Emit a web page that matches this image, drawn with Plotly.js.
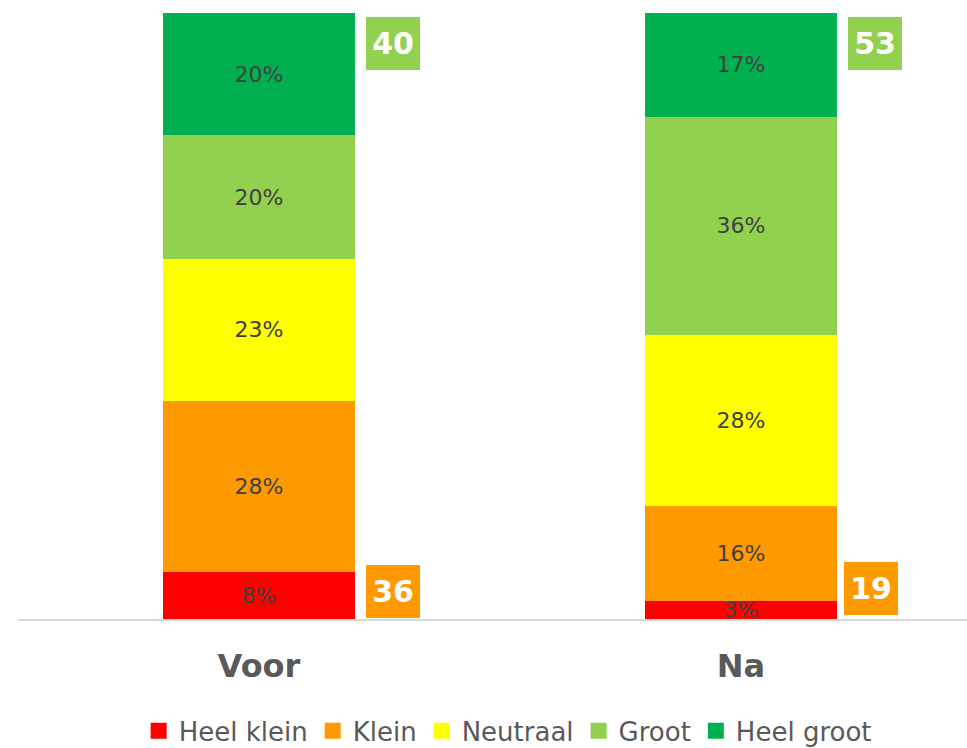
<!DOCTYPE html>
<html>
<head>
<meta charset="utf-8">
<script src="https://cdn.plot.ly/plotly-3.0.1.min.js"></script>
<style>html,body{margin:0;padding:0;background:#fff;}#chart{width:967px;height:748px;}</style>
</head>
<body>
<div id="chart"></div>
<script>
const categories = ["Voor", "Na"];
const seriesNames = ["Heel klein", "Klein", "Neutraal", "Groot", "Heel groot"];
const heelKlein = [7.8, 3.0];
const klein = [28.2, 15.7];
const neutraal = [23.4, 28.2];
const groot = [20.4, 36.0];
const heelGroot = [20.2, 17.1];
const topTotals = [40, 53];     // Groot + Heel groot
const bottomTotals = [36, 19];  // Heel klein + Klein

const colors = ["#FF0000", "#FF9900", "#FFFF00", "#92D050", "#00B050"];
const seriesValues = [heelKlein, klein, neutraal, groot, heelGroot];
const FONT = "DejaVu Sans";

const traces = seriesValues.map((vals, i) => ({
  type: "bar",
  name: seriesNames[i],
  legendgroup: seriesNames[i],
  showlegend: false,
  x: categories,
  y: vals,
  width: 0.4,
  marker: {color: colors[i], line: {width: 0}},
  texttemplate: "%{y:.0f}%",
  textposition: "inside",
  insidetextanchor: "middle",
  insidetextfont: {family: FONT, size: 22, color: "#404040"},
  hoverinfo: "skip",
  cliponaxis: false
}));

// legend-only entries (square swatches)
seriesNames.forEach((n, i) => {
  traces.push({
    type: "scatter", mode: "markers", name: n, legendgroup: n,
    x: [null], y: [null], showlegend: true,
    marker: {symbol: "square", size: 16, color: colors[i], line: {width: 0}},
    hoverinfo: "skip"
  });
});

const annotations = [];
categories.forEach((c, i) => {
  annotations.push({
    x: i + 0.222, y: 99.3, xref: "x", yref: "y",
    xanchor: "left", yanchor: "top",
    text: "<b>" + topTotals[i] + "</b>", showarrow: false,
    bgcolor: "#92D050", width: 54, height: 53, borderpad: 0, borderwidth: 0,
    font: {family: FONT, size: 30, color: "#FFFFFF"}
  });
  annotations.push({
    x: i + (i === 0 ? 0.222 : 0.214), y: (i === 0 ? 0.2 : 0.66), xref: "x", yref: "y",
    xanchor: "left", yanchor: "bottom",
    text: "<b>" + bottomTotals[i] + "</b>", showarrow: false,
    bgcolor: "#FF9900", width: 54, height: 53, borderpad: 0, borderwidth: 0,
    font: {family: FONT, size: 30, color: "#FFFFFF"}
  });
});

const layout = {
  width: 967, height: 748,
  margin: {l: 18, r: 0, t: 13, b: 129, autoexpand: false},
  paper_bgcolor: "#FFFFFF", plot_bgcolor: "#FFFFFF",
  barmode: "stack",
  font: {family: FONT, color: "#595959"},
  uniformtext: {mode: "show", minsize: 22},
  xaxis: {
    type: "category", range: [-0.5, 1.469],
    showline: true, linecolor: "#D9D9D9", linewidth: 2,
    showgrid: false, zeroline: false, ticks: "",
    tickfont: {family: FONT, size: 32, color: "#595959", weight: "bold"},
    ticklabelstandoff: 18, fixedrange: true
  },
  yaxis: {
    range: [0, 100], visible: false, showgrid: false, zeroline: false, fixedrange: true
  },
  showlegend: true,
  legend: {
    orientation: "h", x: 0.525, xanchor: "center", xref: "container",
    y: 0.023, yanchor: "middle", yref: "container",
    font: {family: FONT, size: 26, color: "#595959"},
    traceorder: "normal", itemclick: false, itemdoubleclick: false,
    itemwidth: 30, entrywidth: 0
  },
  annotations: annotations,
  hovermode: false
};

Plotly.newPlot("chart", traces, layout, {displayModeBar: false, staticPlot: true});
</script>
</body>
</html>
